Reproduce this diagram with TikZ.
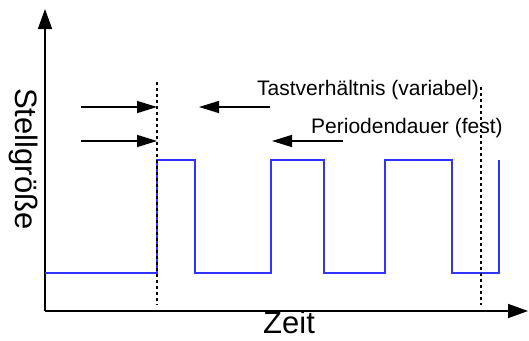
\documentclass[tikz,border=0pt]{standalone}
\usepackage{fontspec}
\setmainfont{Liberation Sans}
\usetikzlibrary{arrows.meta}
\definecolor{signalblue}{RGB}{50,50,255}
\begin{document}
\begin{tikzpicture}[
x=1pt,y=-1pt,
axis/.style={-{Triangle[length=20pt,width=14pt]}, line width=1.6pt},
pointer/.style={-{Triangle[length=20pt,width=12pt]}, line width=1.4pt},
marker/.style={line width=1.3pt, dash pattern=on 3pt off 3pt},
signal/.style={line width=1.8pt, signalblue},
smalltext/.style={inner sep=0pt, font=\fontsize{21pt}{24pt}\selectfont},
bigtext/.style={inner sep=0pt, font=\fontsize{31pt}{36pt}\selectfont}
]
\useasboundingbox (0,0) rectangle (529,340);

% =======================
% AXES
% =======================

\coordinate (origin) at (45,311);
\coordinate (ytip) at (45,9);
\coordinate (xtip) at (528,311);

\draw[axis] (origin) -- (ytip);
\draw[axis] (origin) -- (xtip);

\node[bigtext, anchor=base west] (zeit) at (263,333) {Zeit};
\node[bigtext, rotate=-90, anchor=base west] (stell) at (15,88) {Stellgröße};

% =======================
% SIGNAL
% =======================

\draw[signal] (45,273) -- (157,273) -- (157,160) -- (195,160) -- (195,273)
  -- (271,273) -- (271,160) -- (324,160) -- (324,273)
  -- (385,273) -- (385,160) -- (452,160) -- (452,273)
  -- (499,273) -- (499,160);

% =======================
% MARKERS
% =======================

\coordinate (mark1top) at (157,82);
\coordinate (mark1bot) at (157,305);
\coordinate (mark2top) at (481,87);
\coordinate (mark2bot) at (481,305);

\draw[marker] (mark1top) -- (mark1bot);
\draw[marker] (mark2top) -- (mark2bot);

% =======================
% LABELS
% =======================

\node[smalltext, anchor=base west] (tast) at (257,95) {Tastverhältnis (variabel)};
\node[smalltext, anchor=base west] (periode) at (311,133) {Periodendauer (fest)};

% =======================
% ARROWS
% =======================

\coordinate (tastleft) at (81,107);
\coordinate (tastin) at (157,107);
\coordinate (tastright) at (270,107);
\coordinate (tastout) at (199,107);

\coordinate (perleft) at (81,141);
\coordinate (perin) at (157,141);
\coordinate (perright) at (343,141);
\coordinate (perout) at (272,141);

\draw[pointer] (tastleft) -- (tastin);
\draw[pointer] (tastright) -- (tastout);
\draw[pointer] (perleft) -- (perin);
\draw[pointer] (perright) -- (perout);

\end{tikzpicture}
\end{document}
